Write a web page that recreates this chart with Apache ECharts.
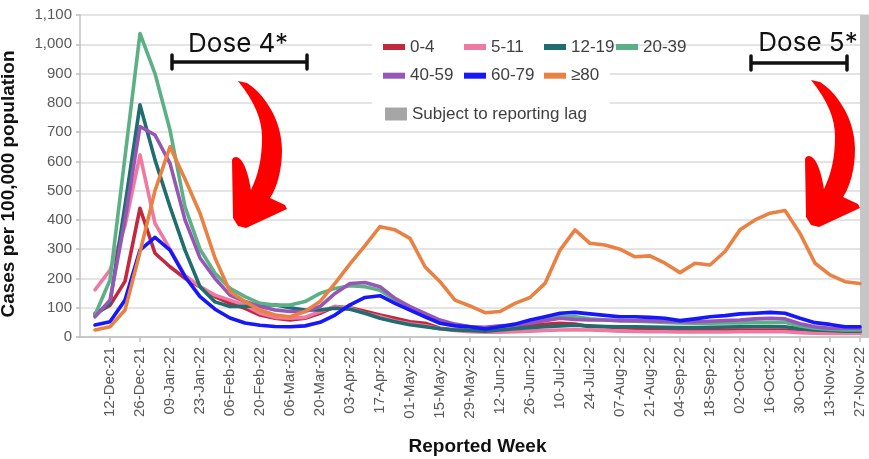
<!DOCTYPE html>
<html>
<head>
<meta charset="utf-8">
<script src="https://cdn.jsdelivr.net/npm/echarts/dist/echarts.min.js"></script>
<style>
html,body{margin:0;padding:0;background:#fff;}
#chart{width:869px;height:459px;}
</style>
</head>
<body>
<div id="chart"></div>
<script>
// Weekly categories (first and last entries only frame the axis)
var weeks = ['28-Nov-21','05-Dec-21','12-Dec-21','19-Dec-21','26-Dec-21','02-Jan-22','09-Jan-22','16-Jan-22','23-Jan-22','30-Jan-22',
  '06-Feb-22','13-Feb-22','20-Feb-22','27-Feb-22','06-Mar-22','13-Mar-22','20-Mar-22','27-Mar-22','03-Apr-22','10-Apr-22',
  '17-Apr-22','24-Apr-22','01-May-22','08-May-22','15-May-22','22-May-22','29-May-22','05-Jun-22','12-Jun-22','19-Jun-22',
  '26-Jun-22','03-Jul-22','10-Jul-22','17-Jul-22','24-Jul-22','31-Jul-22','07-Aug-22','14-Aug-22','21-Aug-22','28-Aug-22',
  '04-Sep-22','11-Sep-22','18-Sep-22','25-Sep-22','02-Oct-22','09-Oct-22','16-Oct-22','23-Oct-22','30-Oct-22','06-Nov-22',
  '13-Nov-22','20-Nov-22','27-Nov-22','04-Dec-22'];

var age0_4 = [null,81,108,190,440,286,240,200,172,138,115,98,75,64,58,64,81,104,100,88,75,64,52,47,30,24,24,24,30,35,41,43,47,44,35,35,32,30,28,27,26,26,25,24,24,24,24,24,18,18,16,16,16,null];
var age5_11 = [null,161,229,380,622,388,300,210,172,143,126,109,81,67,64,67,87,104,98,81,69,55,45,38,28,22,18,16,16,18,20,22,24,25,24,22,20,19,18,18,17,17,17,17,18,18,18,18,15,13,12,12,12,null];
var age12_19 = [null,75,115,450,793,605,445,297,172,120,104,104,109,110,100,92,92,98,95,81,64,52,42,35,28,24,22,20,24,28,32,35,38,40,38,36,35,35,34,33,32,32,33,34,35,36,36,35,28,24,22,20,20,null];
var age20_39 = [null,75,195,616,1037,900,707,445,300,218,166,138,115,109,109,121,149,166,175,172,160,126,98,75,52,41,35,30,35,41,52,64,69,69,62,58,56,54,52,50,48,47,47,48,48,50,50,50,38,30,27,24,24,null];
var age40_59 = [null,69,126,400,719,690,593,400,270,200,143,121,104,92,87,87,104,149,183,186,172,132,104,81,58,44,35,33,38,41,47,56,64,60,58,58,56,56,55,54,52,52,54,56,58,62,64,62,45,35,30,30,30,null];
var age60_79 = [null,41,52,126,297,340,297,206,138,95,65,48,40,36,35,38,50,75,110,135,141,115,92,69,47,38,35,27,35,44,58,69,81,84,79,74,69,69,67,64,56,62,69,73,79,81,84,81,64,49,43,35,35,null];
var age80p = [null,24,35,92,290,500,650,540,423,270,155,121,92,75,69,87,121,183,250,312,377,366,337,240,189,126,106,83,87,115,135,183,297,366,320,314,300,274,277,252,220,252,246,292,366,400,423,432,354,252,212,189,183,null];

var seriesNames = ['0-4','5-11','12-19','20-39','40-59','60-79','≥80'];
var seriesData = [age0_4, age5_11, age12_19, age20_39, age40_59, age60_79, age80p];
var seriesColors = ['#c3283f','#ef79a3','#1f6d6e','#5cb086','#9656b5','#1717fb','#ea8142'];
var lagLabel = 'Subject to reporting lag';
var lagWeeks = ['27-Nov-22','04-Dec-22'];
var yTicks = {min:0, max:1100, interval:100};

var FONT = 'Liberation Sans';
var chart = echarts.init(document.getElementById('chart'), null, {renderer:'canvas'});

var series = seriesNames.map(function(n,i){
  return {
    name:n, type:'line', data:seriesData[i], showSymbol:false, symbol:'none',
    lineStyle:{width:3.6, color:seriesColors[i], cap:'round', join:'round'},
    itemStyle:{color:seriesColors[i]}, connectNulls:false
  };
});
series.push({
  name:lagLabel, type:'line', data:[], showSymbol:false,
  itemStyle:{color:'#a6a6a6'}, lineStyle:{width:0},
  markArea:{silent:true, itemStyle:{color:'#c6c6c6'},
    data:[[{xAxis:lagWeeks[0], yAxis:yTicks.min},{xAxis:lagWeeks[1], yAxis:yTicks.max}]]}
});

// decorative red curved arrows (annotation, not data)
var arrowPath = 'M238 81 L247 83 C262 92 282 118 282 150 C282 170 277 188 270 198 L285 205 L287 209 L246 228 L238 226 L233 218 L232 160 C233 156 238 156 241 160 C246 166 249 178 251 190 C258 175 262 160 262 137 C262 120 255 102 238 81 Z';
series.push({
  name:'arrows', type:'custom', coordinateSystem:'none', silent:true, z:20,
  data:[[0],[573]],
  renderItem:function(params, api){
    var dx = api.value(0);
    return {type:'path', x:dx, y:dx ? -1 : 0, shape:{pathData:arrowPath}, style:{fill:'#ff0000'}};
  }
});

function col(data,left){
  return {data:data, orient:'vertical', left:left, top:38.5, padding:0, itemGap:11.7,
    icon:'rect', itemWidth:22, itemHeight:6, selectedMode:false,
    textStyle:{fontFamily:FONT, fontSize:17, color:'#404040', lineHeight:17}};
}

function bracket(x1,x2,y){
  return [
    {type:'line', z:100, shape:{x1:x1,y1:y,x2:x2,y2:y}, style:{stroke:'#111',lineWidth:3.5}},
    {type:'line', z:100, shape:{x1:x1,y1:y-7,x2:x1,y2:y+7}, style:{stroke:'#111',lineWidth:3.5,lineCap:'round'}},
    {type:'line', z:100, shape:{x1:x2,y1:y-7,x2:x2,y2:y+7}, style:{stroke:'#111',lineWidth:3.5,lineCap:'round'}}
  ];
}

var graphics = [
  {type:'rect', z:1, shape:{x:372,y:30,width:238,height:97}, style:{fill:'#fff'}},
  {type:'text', z:100, style:{x:238, y:44, text:'Dose 4*', fontFamily:'Inter', fontSize:26, fill:'#111', textAlign:'center', textVerticalAlign:'middle'}},
  {type:'text', z:100, style:{x:808, y:43, text:'Dose 5*', fontFamily:'Inter', fontSize:26, fill:'#111', textAlign:'center', textVerticalAlign:'middle'}}
].concat(bracket(172,307,62)).concat(bracket(751,847,63));

var option = {
  animation:false,
  backgroundColor:'#fff',
  textStyle:{fontFamily:FONT},
  grid:{left:80, top:15, width:795, bottom:122, containLabel:false, outerBoundsMode:'none'},
  legend:[
    col(['0-4','40-59'],383),
    col(['5-11','60-79'],464),
    col(['12-19','≥80'],544),
    col(['20-39'],616),
    {data:[{name:lagLabel, itemStyle:{color:'#a6a6a6'}}], left:385, top:105.5, padding:0, icon:'rect', itemWidth:22, itemHeight:13, selectedMode:false,
     textStyle:{fontFamily:FONT, fontSize:17, color:'#404040', lineHeight:17}}
  ],
  xAxis:{
    type:'category', data:weeks, boundaryGap:false,
    name:'Reported Week', nameLocation:'middle', nameGap:100,
    nameTextStyle:{fontFamily:FONT, fontSize:19, fontWeight:'bold', color:'#111'},
    axisLine:{lineStyle:{color:'#bfbfbf', width:1.5}},
    axisTick:{show:true, length:5, lineStyle:{color:'#bfbfbf', width:1.5},
      interval:function(i){return i>=2 && i<=52 && i%2===0;}},
    axisLabel:{rotate:90, margin:10, fontSize:15, color:'#595959', fontFamily:FONT,
      interval:function(i){return i>=2 && i<=52 && i%2===0;}},
    splitLine:{show:false}
  },
  yAxis:{
    type:'value', min:yTicks.min, max:yTicks.max, interval:yTicks.interval,
    name:'Cases per 100,000 population', nameLocation:'middle', nameGap:62, nameRotate:90,
    nameTextStyle:{fontFamily:FONT, fontSize:19, fontWeight:'bold', color:'#111', padding:[0,16,0,0]},
    axisLine:{show:true, lineStyle:{color:'#bfbfbf', width:1.5}},
    axisTick:{show:true, length:4, lineStyle:{color:'#bfbfbf', width:1.5}},
    axisLabel:{fontSize:15, color:'#595959', margin:8, fontFamily:FONT,
      formatter:function(v){return v.toLocaleString('en-US');}},
    splitLine:{lineStyle:{color:'#e4e4e4', width:1.8}}
  },
  series:series,
  graphic:graphics
};
chart.setOption(option);
</script>
</body>
</html>
